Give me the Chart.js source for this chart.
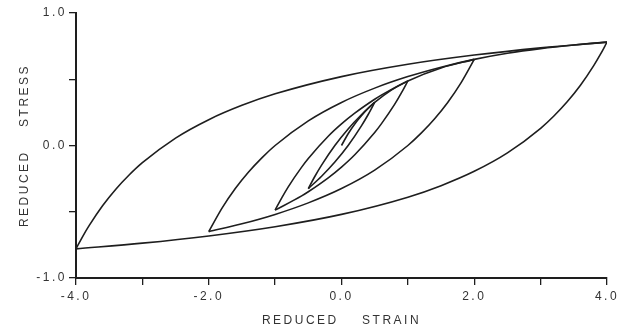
<!DOCTYPE html>
<html>
<head>
<meta charset="utf-8">
<script src="https://cdn.jsdelivr.net/npm/chart.js@4.4.1/dist/chart.umd.min.js"></script>
<style>
  html, body { margin: 0; padding: 0; background: #fff; }
  #wrap { width: 626px; height: 332px; }
</style>
</head>
<body>
<div id="wrap"><canvas id="loops"></canvas></div>
<script>
// values (reduced strain / reduced stress)
const virginStrain = [0, 0.1, 0.2, 0.3, 0.4, 0.5];
const virginStress = [0, 0.089, 0.163, 0.225, 0.279, 0.325];

const unload05Strain = [0.5, 0.4, 0.3, 0.1, -0.1, -0.3, -0.5];
const unload05Stress = [0.325, 0.232, 0.148, 0, -0.125, -0.232, -0.325];

const reload05Strain = [-0.5, -0.4, -0.3, -0.1, 0.1, 0.3, 0.5, 0.75, 1];
const reload05Stress = [-0.325, -0.232, -0.148, 0, 0.125, 0.232, 0.325, 0.418, 0.4875];

const unload1Strain = [1, 0.9, 0.8, 0.6, 0.5, 0.2, 0, -0.2, -0.5, -0.6, -1];
const unload1Stress = [0.4875, 0.395, 0.31, 0.163, 0.098, -0.07, -0.163, -0.244, -0.349, -0.38, -0.4875];

const reload1Strain = [-1, -0.9, -0.8, -0.6, -0.5, -0.2, 0, 0.2, 0.5, 0.6, 1, 1.5, 2];
const reload1Stress = [-0.4875, -0.395, -0.31, -0.163, -0.098, 0.07, 0.163, 0.244, 0.349, 0.38, 0.4875, 0.585, 0.65];

const unload2Strain = [2, 1.8, 1.6, 1.4, 1.2, 1, 0.5, 0, -0.5, -1, -1.5, -2];
const unload2Stress = [0.65, 0.473, 0.325, 0.2, 0.093, 0, -0.186, -0.325, -0.433, -0.52, -0.591, -0.65];

const reload2Strain = [-2, -1.8, -1.6, -1.4, -1.2, -1, -0.5, 0, 0.5, 1, 1.5, 2, 2.5, 3, 3.5, 4];
const reload2Stress = [-0.65, -0.473, -0.325, -0.2, -0.093, 0, 0.186, 0.325, 0.433, 0.52, 0.591, 0.65, 0.696, 0.731, 0.758, 0.78];

const unload4Strain = [4, 3.9, 3.8, 3.6, 3.4, 3.2, 3, 2.5, 2, 1.5, 1, 0, -1, -2, -3, -4];
const unload4Stress = [0.78, 0.687, 0.603, 0.455, 0.33, 0.223, 0.13, -0.056, -0.195, -0.303, -0.39, -0.52, -0.613, -0.6825, -0.737, -0.78];

const reload4Strain = [-4, -3.9, -3.8, -3.6, -3.4, -3.2, -3, -2.5, -2, -1.5, -1, 0, 1, 2, 3, 4];
const reload4Stress = [-0.78, -0.687, -0.603, -0.455, -0.33, -0.223, -0.13, 0.056, 0.195, 0.303, 0.39, 0.52, 0.613, 0.6825, 0.737, 0.78];

const strainTicks = [-4, -2, 0, 2, 4];   // labelled strain ticks
const stressTicks = [-1, 0, 1];          // labelled stress ticks

const branches = [
  [virginStrain, virginStress],
  [unload05Strain, unload05Stress],
  [reload05Strain, reload05Stress],
  [unload1Strain, unload1Stress],
  [reload1Strain, reload1Stress],
  [unload2Strain, unload2Stress],
  [reload2Strain, reload2Stress],
  [unload4Strain, unload4Stress],
  [reload4Strain, reload4Stress]
];

const ink = '#1e1e1e';
const textInk = '#333';
const textFont = { family: 'Liberation Sans', size: 12 };

// the lettering on the original is widely spaced
const spacing = {
  id: 'spacing',
  beforeUpdate(chart) { chart.ctx.letterSpacing = '2.5px'; },
  beforeDraw(chart) { chart.ctx.letterSpacing = '2.5px'; }
};

new Chart(document.getElementById('loops'), {
  type: 'scatter',
  data: {
    datasets: branches.map(([xs, ys]) => ({
      data: xs.map((x, i) => ({ x: x, y: ys[i] })),
      showLine: true,
      borderColor: ink,
      borderWidth: 1.6,
      pointRadius: 0,
      cubicInterpolationMode: 'monotone'
    }))
  },
  options: {
    responsive: true,
    maintainAspectRatio: false,
    animation: false,
    events: [],
    layout: { padding: { top: 13, right: 19, bottom: 0, left: 0 } },
    plugins: {
      legend: { display: false },
      tooltip: { enabled: false }
    },
    scales: {
      x: {
        type: 'linear',
        min: -4,
        max: 4,
        afterFit(scale) { scale.height = 54; },
        ticks: {
          stepSize: 1,
          autoSkip: false,
          maxRotation: 0,
          padding: 4,
          color: textInk,
          font: textFont,
          callback: v => strainTicks.includes(v) ? v.toFixed(1) : ''
        },
        grid: { drawOnChartArea: false, drawTicks: true, tickLength: 7, color: ink, lineWidth: 1.3 },
        border: { display: true, color: ink, width: 2 },
        title: {
          display: true,
          text: 'REDUCED    STRAIN',
          color: textInk,
          font: textFont,
          padding: { top: 0, bottom: 4 }
        }
      },
      y: {
        type: 'linear',
        min: -1,
        max: 1,
        afterFit(scale) { scale.width = 76; },
        ticks: {
          stepSize: 0.5,
          autoSkip: false,
          padding: 2,
          color: textInk,
          font: textFont,
          callback: v => stressTicks.includes(v) ? v.toFixed(1) : ''
        },
        grid: { drawOnChartArea: false, drawTicks: true, tickLength: 7, color: ink, lineWidth: 1.3 },
        border: { display: true, color: ink, width: 2 },
        title: {
          display: true,
          text: 'REDUCED    STRESS',
          color: textInk,
          font: textFont,
          padding: { top: 17, bottom: 0 }
        }
      }
    }
  },
  plugins: [spacing]
});
</script>
</body>
</html>
